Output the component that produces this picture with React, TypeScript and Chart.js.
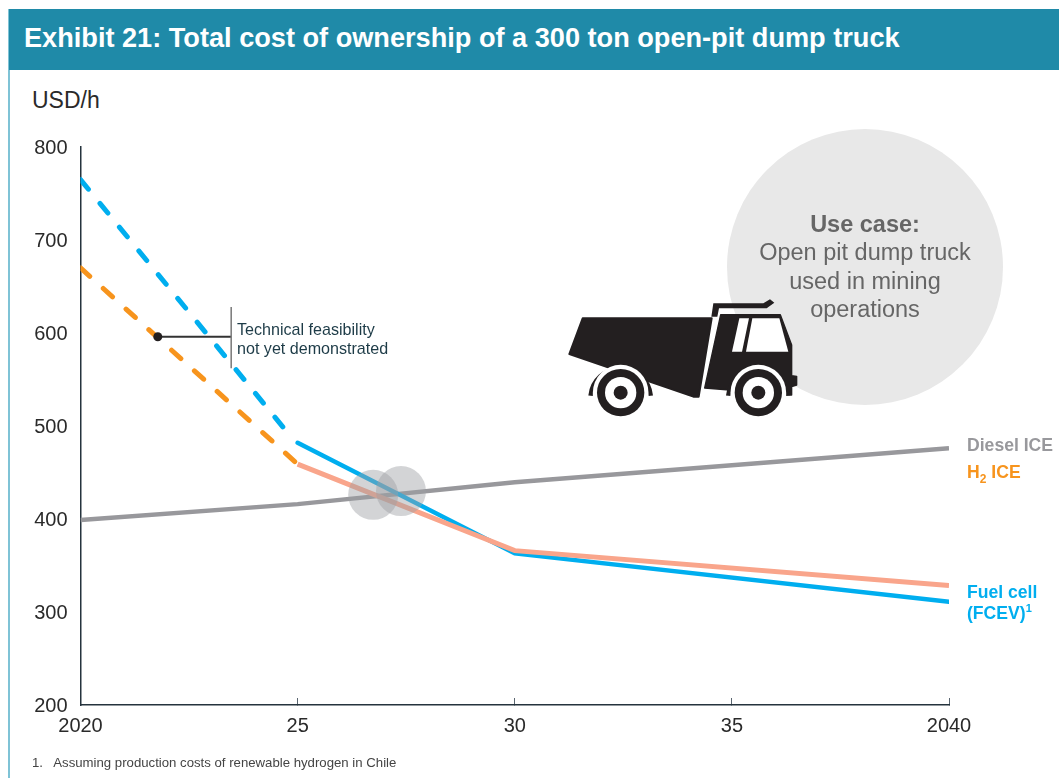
import React, { useEffect, useRef } from "react";
import { Chart, registerables } from "chart.js";

Chart.register(...registerables);

const TITLE = "Exhibit 21: Total cost of ownership of a 300 ton open-pit dump truck";
const UNIT = "USD/h";
const FOOTNOTE = "1.   Assuming production costs of renewable hydrogen in Chile";
const USE_CASE_HEAD = "Use case:";
const USE_CASE_LINES = ["Open pit dump truck", "used in mining", "operations"];
const NOTE_LINES = ["Technical feasibility", "not yet demonstrated"];

const xTickValues = [2020, 2025, 2030, 2035, 2040];
const xTickLabels = ["2020", "25", "30", "35", "2040"];

const fcevDashedYears = [2020, 2024.73];
const fcevDashed = [765, 495];
const h2DashedYears = [2020, 2025];
const h2Dashed = [670, 459];
const lateYears = [2025, 2030, 2040];
const fcevSolid = [482, 363, 311];
const h2Solid = [459, 366, 328.5];
const dieselYears = [2020, 2025, 2030, 2040];
const dieselValues = [399, 416, 439.5, 476];

const crossoverX = [2026.74, 2027.38];
const crossoverY = [426, 430];

const noteDotX = 2021.78;
const noteDotY = 596;
const noteBarX = 2023.47;
const noteBarY = [562, 628];

const BLUE = "#00aeef";
const ORANGE = "#f7941d";
const SALMON = "#f9a58b";
const GREY = "#98989c";
const INK = "#25333d";
const FONT = '"Liberation Sans", Arial, sans-serif';

const pts = (xs: number[], ys: number[]) => xs.map((x, i) => ({ x, y: ys[i] }));

// Nudges the value-axis labels down to sit where the reference has them.
const labelNudge = {
  id: "labelNudge",
  beforeDraw(chart: any) {
    chart.scales.y.getLabelItems().forEach((item: any) => {
      if (!item.nudged) {
        item.options.translation[1] += 1.5;
        item.nudged = true;
      }
    });
  },
};

function Wheel({ cx, cy }: { cx: number; cy: number }) {
  const r = 90.5;
  const dy = 9;
  const dx = Math.sqrt(r * r - dy * dy);
  return (
    <g>
      <path
        d={`M ${cx - dx} ${cy + dy} A ${r} ${r} 0 0 1 ${cx + dx} ${cy + dy}`}
        fill="none"
        stroke="#231f20"
        strokeWidth={14}
      />
      <path
        d={`M ${cx - 83.5} ${cy + 80} L ${cx - 83.5} ${cy} A 83.5 83.5 0 0 1 ${cx + 83.5} ${cy} L ${cx + 83.5} ${cy + 80} Z`}
        fill="#fff"
      />
      <circle cx={cx} cy={cy} r={71} fill="#231f20" />
      <circle cx={cx} cy={cy} r={47} fill="#fff" />
      <circle cx={cx} cy={cy} r={21} fill="#231f20" />
    </g>
  );
}

function Truck() {
  return (
    <svg
      width={270}
      height={150}
      viewBox="0 0 810 450"
      style={{ position: "absolute", left: 550, top: 280 }}
    >
      <polygon fill="#231f20" stroke="#231f20" strokeWidth={6} strokeLinejoin="round"
        points="98,115 485,115 446,350 430,350 58,222" />
      <polygon fill="#231f20" points="490,70 640,70 660,58 673,68 650,85 507,85 502,110 484,110" />
      <polygon fill="#231f20" stroke="#231f20" strokeWidth={4} strokeLinejoin="round"
        points="512,104 691,104 725,195 725,287 740,289 740,315 725,320 725,345 464,324" />
      <Wheel cx={212} cy={338} />
      <Wheel cx={625} cy={338} />
      <polygon fill="#fff" points="568,115 597,115 576,215 546,215" />
      <polygon fill="#fff" points="607,115 688,115 715,215 588,215" />
    </svg>
  );
}

const textAt = (left: number, top: number, extra: React.CSSProperties): React.CSSProperties => ({
  position: "absolute",
  left,
  top,
  whiteSpace: "nowrap",
  fontFamily: FONT,
  lineHeight: 1,
  ...extra,
});

export default function App() {
  const ref = useRef<HTMLCanvasElement | null>(null);

  useEffect(() => {
    if (!ref.current) return;
    const line = (
      data: { x: number; y: number }[],
      color: string,
      order: number,
      extra: Record<string, unknown> = {}
    ) => ({
      type: "line" as const,
      data,
      borderColor: color,
      borderWidth: 4.5,
      pointRadius: 0,
      tension: 0,
      fill: false,
      order,
      ...extra,
    });
    const dash = { borderDash: [12.5, 18.2], borderCapStyle: "round", borderWidth: 5 };
    const chart = new Chart(ref.current, {
      type: "line",
      plugins: [labelNudge],
      data: {
        datasets: [
          line(pts(dieselYears, dieselValues), GREY, 9),
          line(pts(fcevDashedYears, fcevDashed), BLUE, 8, dash),
          line(pts(h2DashedYears, h2Dashed), ORANGE, 7, dash),
          line(pts(lateYears, fcevSolid), BLUE, 6, { borderCapStyle: "round" }),
          line(pts(lateYears, h2Solid), SALMON, 5, { borderWidth: 5 }),
          {
            type: "scatter" as const,
            data: pts(crossoverX, crossoverY),
            pointRadius: 25,
            pointBackgroundColor: "rgba(158,160,165,0.45)",
            pointBorderWidth: 0,
            order: 4,
          },
          line(pts([noteDotX, noteBarX], [noteDotY, noteDotY]), "#333", 3, { borderWidth: 2 }),
          line(pts([noteBarX, noteBarX], noteBarY), "#777", 2, { borderWidth: 1.5 }),
          {
            type: "scatter" as const,
            data: [{ x: noteDotX, y: noteDotY }],
            pointRadius: 4.5,
            pointBackgroundColor: "#231f20",
            pointBorderWidth: 0,
            order: 1,
          },
        ],
      } as any,
      options: {
        animation: false,
        responsive: false,
        devicePixelRatio: 1,
        layout: { padding: { left: 0, top: 147, right: 110, bottom: 0 } },
        plugins: { legend: { display: false }, tooltip: { enabled: false }, title: { display: false } },
        scales: {
          x: {
            type: "linear",
            min: 2020,
            max: 2040,
            border: { color: INK, width: 1.5 },
            grid: { drawOnChartArea: false, drawTicks: true, tickLength: -7, tickColor: "#5a6670", tickWidth: 1 },
            afterBuildTicks: (s: any) => {
              s.ticks = xTickValues.map((value) => ({ value }));
            },
            afterFit: (s: any) => {
              s.height = 73;
              s.paddingLeft = s.paddingRight = s.paddingTop = s.paddingBottom = 0;
            },
            ticks: {
              autoSkip: false,
              maxRotation: 0,
              padding: 16,
              color: "#2a2a2a",
              font: { family: FONT, size: 20 },
              callback: (v: any) => xTickLabels[xTickValues.indexOf(Number(v))] ?? "",
            },
          },
          y: {
            type: "linear",
            min: 200,
            max: 800,
            border: { color: INK, width: 1.5 },
            grid: { display: false, drawTicks: false },
            afterFit: (s: any) => {
              s.width = 80.5;
              s.paddingLeft = s.paddingRight = s.paddingTop = s.paddingBottom = 0;
            },
            ticks: {
              stepSize: 100,
              padding: 13,
              color: "#2a2a2a",
              font: { family: FONT, size: 20 },
            },
          },
        },
      },
    } as any);
    return () => chart.destroy();
  }, []);

  return (
    <div
      style={{
        position: "absolute",
        left: 0,
        top: 0,
        width: 1059,
        height: 778,
        overflow: "hidden",
        background: "#fff",
      }}
    >
      <div style={{ position: "absolute", left: 8, top: 9, width: 1.5, height: 769, background: "#7fc3d6" }} />
      <div style={{ position: "absolute", left: 9, top: 9, width: 1050, height: 61, background: "#1f8aa8" }} />
      <div style={textAt(24, 24, { color: "#fff", fontWeight: 700, fontSize: 27.15 })}>{TITLE}</div>
      <div style={textAt(32, 88.5, { color: "#2a2a2a", fontSize: 23 })}>{UNIT}</div>
      <div
        style={{
          position: "absolute",
          left: 727,
          top: 129,
          width: 276,
          height: 276,
          borderRadius: "50%",
          background: "#e8e8e8",
        }}
      />
      <canvas ref={ref} width={1059} height={778} style={{ position: "absolute", left: 0, top: 0 }} />
      <Truck />
      <div style={textAt(865, 213, { color: "#666", fontWeight: 700, fontSize: 23.5, transform: "translateX(-50%)" })}>
        {USE_CASE_HEAD}
      </div>
      {USE_CASE_LINES.map((t, i) => (
        <div key={t} style={textAt(865, 241 + i * 28.7, { color: "#666", fontSize: 23.5, transform: "translateX(-50%)" })}>
          {t}
        </div>
      ))}
      {NOTE_LINES.map((t, i) => (
        <div key={t} style={textAt(237, 320.5 + i * 19, { color: "#1d3b47", fontSize: 16.1 })}>
          {t}
        </div>
      ))}
      <div style={textAt(967, 437, { color: GREY, fontWeight: 700, fontSize: 17.6 })}>Diesel ICE</div>
      <div style={textAt(967, 464, { color: ORANGE, fontWeight: 700, fontSize: 17.6 })}>
        H<sub style={{ fontSize: 12, lineHeight: 0 }}>2</sub> ICE
      </div>
      <div style={textAt(967, 584, { color: BLUE, fontWeight: 700, fontSize: 17.6 })}>Fuel cell</div>
      <div style={textAt(967, 605, { color: BLUE, fontWeight: 700, fontSize: 17.6 })}>
        (FCEV)<sup style={{ fontSize: 11, lineHeight: 0 }}>1</sup>
      </div>
      <div style={textAt(32, 755.5, { color: "#444", fontSize: 13.2, whiteSpace: "pre" })}>{FOOTNOTE}</div>
    </div>
  );
}
